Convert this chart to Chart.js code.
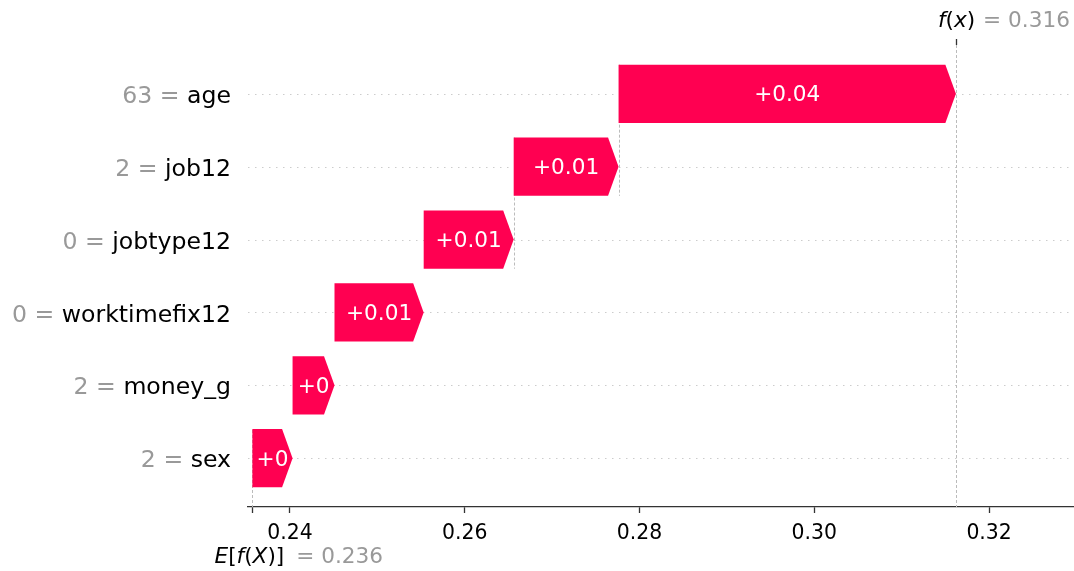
<!DOCTYPE html>
<html>
<head>
<meta charset="utf-8">
<script src="https://cdn.jsdelivr.net/npm/chart.js@4/dist/chart.umd.min.js"></script>
<style>
  html, body { margin: 0; padding: 0; background: #ffffff; }
  #wrap { width: 1074px; height: 571px; position: relative; }
</style>
</head>
<body>
<div id="wrap"><canvas id="c" width="1074" height="571"></canvas></div>
<script>
// Features from top row to bottom row
const featureNames  = ['age', 'job12', 'jobtype12', 'worktimefix12', 'money_g', 'sex'];
const featureValues = ['63', '2', '0', '0', '2', '2'];
const shapValues    = [0.0386, 0.0120, 0.0103, 0.0102, 0.0048, 0.0046];
const baseValue     = 0.2357;
const xTickValues   = [0.24, 0.26, 0.28, 0.30, 0.32];

const FONT = "'DejaVu Sans', 'Liberation Sans', sans-serif";
const RED = '#ff0051';
const GRAY = '#999999';

// Stack contributions upward from the base value (bottom row first)
const nFeat = featureNames.length;
const bars = [];
let cum = baseValue;
for (let i = nFeat - 1; i >= 0; i--) {
  bars[i] = { row: nFeat - 1 - i, start: cum, end: cum + shapValues[i], value: shapValues[i] };
  cum += shapValues[i];
}
const fx = cum;

function fmtShap(v) {
  let s = (v >= 0 ? '+' : '') + v.toFixed(2);
  if (s.indexOf('.') >= 0) s = s.replace(/0+$/, '').replace(/\.$/, '');
  return s;
}

function drawParts(ctx, parts, x, y, size) {
  let cx = x;
  parts.forEach(p => {
    ctx.font = (p.italic ? 'italic ' : '') + size + 'px ' + FONT;
    ctx.fillStyle = p.color;
    ctx.textAlign = 'left';
    ctx.fillText(p.t, cx, y);
    cx += ctx.measureText(p.t).width;
  });
  return cx;
}
function partsWidth(ctx, parts, size) {
  let w = 0;
  parts.forEach(p => {
    ctx.font = (p.italic ? 'italic ' : '') + size + 'px ' + FONT;
    w += ctx.measureText(p.t).width;
  });
  return w;
}

const waterfallPlugin = {
  id: 'waterfall',
  beforeDatasetsDraw(chart) {
    const { ctx, chartArea: a, scales: { x, y } } = chart;
    ctx.save();
    // dotted row guides
    ctx.strokeStyle = '#cccccc';
    ctx.lineWidth = 1;
    ctx.setLineDash([1.5, 5.5]);
    bars.forEach(b => {
      const py = Math.round(y.getPixelForValue(b.row)) + 0.5;
      ctx.beginPath(); ctx.moveTo(a.left, py); ctx.lineTo(a.right, py); ctx.stroke();
    });
    // dashed connectors and reference lines
    ctx.strokeStyle = '#bbbbbb';
    ctx.setLineDash([3, 2]);
    const vline = (xv, y0, y1) => {
      const px = Math.round(x.getPixelForValue(xv)) + 0.5;
      ctx.beginPath(); ctx.moveTo(px, y0); ctx.lineTo(px, y1); ctx.stroke();
    };
    for (let i = 0; i < 2; i++) {
      const b = bars[i];
      vline(b.start, y.getPixelForValue(b.row + 0.4), y.getPixelForValue(b.row - 1.4));
    }
    vline(fx, a.top, a.bottom);
    vline(baseValue, a.bottom - (a.bottom - a.top) / nFeat, a.bottom);
    ctx.restore();
  },
  afterDatasetsDraw(chart) {
    const { ctx, chartArea: a, scales: { x, y } } = chart;
    ctx.save();
    // arrow-shaped bars
    bars.forEach(b => {
      const xs = x.getPixelForValue(b.start);
      const xe = x.getPixelForValue(b.end);
      const yc = y.getPixelForValue(b.row);
      const h = y.getPixelForValue(b.row - 0.4) - y.getPixelForValue(b.row + 0.4);
      const head = Math.min(10.5, Math.abs(xe - xs));
      ctx.fillStyle = RED;
      ctx.beginPath();
      ctx.moveTo(xs, yc - h / 2);
      ctx.lineTo(xe - head, yc - h / 2);
      ctx.lineTo(xe, yc);
      ctx.lineTo(xe - head, yc + h / 2);
      ctx.lineTo(xs, yc + h / 2);
      ctx.closePath();
      ctx.fill();
      ctx.fillStyle = '#ffffff';
      ctx.font = '21.6px ' + FONT;
      ctx.textAlign = 'center';
      ctx.textBaseline = 'middle';
      ctx.fillText(fmtShap(b.value), (xs + xe) / 2, yc + 2);
    });
    // feature labels
    ctx.textBaseline = 'middle';
    bars.forEach((b, i) => {
      const yc = y.getPixelForValue(b.row) + 3;
      const right = 231;
      ctx.font = '23.6px ' + FONT;
      ctx.textAlign = 'right';
      ctx.fillStyle = '#000000';
      ctx.fillText(featureNames[i], right, yc);
      const w = ctx.measureText(featureNames[i]).width;
      ctx.fillStyle = GRAY;
      ctx.fillText(featureValues[i] + ' = ', right - w, yc);
    });
    // f(x) marker on top
    const fxPx = Math.round(x.getPixelForValue(fx)) + 0.5;
    ctx.strokeStyle = '#333333';
    ctx.lineWidth = 1.3;
    ctx.setLineDash([]);
    ctx.beginPath(); ctx.moveTo(fxPx, a.top); ctx.lineTo(fxPx, a.top - 6); ctx.stroke();
    const fParts = [
      { t: 'f', italic: true, color: '#000' }, { t: '(', color: '#000' },
      { t: 'x', italic: true, color: '#000' }, { t: ')', color: '#000' }
    ];
    ctx.textBaseline = 'middle';
    const fw = partsWidth(ctx, fParts, 21.6);
    const fEnd = drawParts(ctx, fParts, fxPx - fw / 2, 21, 21.6);
    drawParts(ctx, [{ t: '= ' + fx.toFixed(3), color: GRAY }], fEnd + 8, 21, 21.6);
    // E[f(X)] label below the axis
    const bPx = x.getPixelForValue(baseValue);
    const eParts = [
      { t: 'E', italic: true, color: '#000' }, { t: '[', color: '#000' },
      { t: 'f', italic: true, color: '#000' }, { t: '(', color: '#000' },
      { t: 'X', italic: true, color: '#000' }, { t: ')]', color: '#000' }
    ];
    const ew = partsWidth(ctx, eParts, 21.6);
    const eEnd = drawParts(ctx, eParts, bPx - 3 - ew / 2, 557, 21.6);
    drawParts(ctx, [{ t: '= ' + baseValue.toFixed(3), color: GRAY }], eEnd + 12, 557, 21.6);
    ctx.restore();
  }
};

const xMin = 0.2352, xMax = 0.3296;

new Chart(document.getElementById('c'), {
  type: 'bar',
  data: {
    datasets: [{
      data: bars.map(b => ({ x: [b.start, b.end], y: b.row })),
      backgroundColor: 'rgba(0,0,0,0)',
      borderWidth: 0
    }]
  },
  options: {
    indexAxis: 'y',
    responsive: false,
    animation: false,
    devicePixelRatio: 1,
    layout: { padding: { left: 248, right: 1, top: 45, bottom: 0 } },
    scales: {
      x: {
        type: 'linear',
        position: 'bottom',
        min: xMin,
        max: xMax,
        afterBuildTicks: s => { s.ticks = [baseValue, ...xTickValues].map(v => ({ value: v })); },
        afterFit: s => { s.height = 64; },
        ticks: {
          autoSkip: false,
          maxRotation: 0,
          padding: 8,
          color: '#000000',
          font: { family: FONT, size: 20.4 },
          callback: (v, idx) => idx === 0 ? '' : Number(v).toFixed(2)
        },
        grid: { drawOnChartArea: false, drawTicks: true, tickLength: 6, tickWidth: 1.3, tickColor: '#333333' },
        border: { display: true, color: '#333333', width: 1.3 }
      },
      y: { type: 'linear', min: -0.67, max: 5.67, offset: false, grace: 0, display: false }
    },
    plugins: { legend: { display: false }, tooltip: { enabled: false } }
  },
  plugins: [waterfallPlugin]
});
</script>
</body>
</html>
